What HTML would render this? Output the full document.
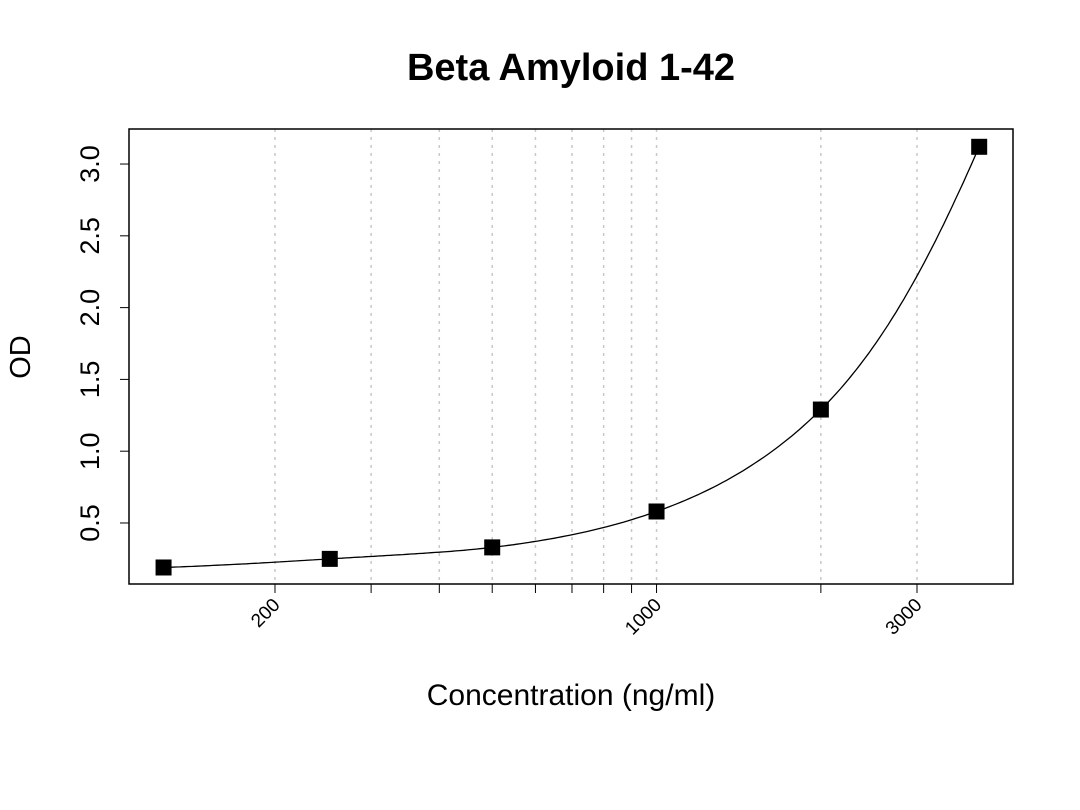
<!DOCTYPE html>
<html><head><meta charset="utf-8"><style>
body{margin:0;background:#fff;}
svg{display:block;font-family:"Liberation Sans",Arial,sans-serif;}
</style></head><body>
<svg id="chart" width="1080" height="810">
<text x="571" y="80" text-anchor="middle" font-size="38" font-weight="bold">Beta Amyloid 1-42</text>
<text x="571" y="705" text-anchor="middle" font-size="30">Concentration (ng/ml)</text>
<text transform="translate(30,357) rotate(-90)" text-anchor="middle" font-size="29">OD</text>
<g id="grid"></g><g id="axes"></g><g id="series"></g>
<rect x="129" y="129" width="884" height="455" fill="none" stroke="#000" stroke-width="1.5"/>
</svg>
<script>
const concentrations=[125,252,500,1000,2000,3900];
const odValues=[0.19,0.25,0.33,0.58,1.29,3.12];
const xTickValues=[200,1000,3000];
const xTickLabels=["200","1000","3000"];
const gridValues=[200,300,400,500,600,700,800,900,1000,2000,3000];
const yTickValues=[0.5,1.0,1.5,2.0,2.5,3.0];
const yTickLabels=["0.5","1.0","1.5","2.0","2.5","3.0"];
const NS="http://www.w3.org/2000/svg";
const L=129,R=1013,T=129,B=584;
const lx0=2.0336,lx1=3.653,y0=0.075,y1=3.244;
const xS=v=>L+(Math.log10(v)-lx0)/(lx1-lx0)*(R-L);
const yS=v=>B-(v-y0)/(y1-y0)*(B-T);
function mk(t,a,p){const e=document.createElementNS(NS,t);for(const k in a)e.setAttribute(k,a[k]);p.appendChild(e);return e;}
const grid=document.getElementById('grid'),axes=document.getElementById('axes'),ser=document.getElementById('series');
gridValues.forEach(v=>{const l=mk('line',{x1:xS(v),x2:xS(v),y1:T,y2:B,stroke:'#c8c8c8','stroke-width':1.5,'stroke-dasharray':'3,5'},grid);


const tk=mk('line',{x1:xS(v),x2:xS(v),y1:B,y2:B+9,stroke:'#000','stroke-width':1},axes);

});
xTickValues.forEach((v,i)=>{const x=xS(v);const t=mk('text',{transform:`translate(${x+6},${B+22}) rotate(-45)`,'text-anchor':'end','font-size':19},axes);t.textContent=xTickLabels[i];

});
yTickValues.forEach((v,i)=>{const y=yS(v);const tk=mk('line',{x1:L-9,x2:L,y1:y,y2:y,stroke:'#000'},axes);


const t=mk('text',{transform:`translate(${L-30},${y}) rotate(-90)`,'text-anchor':'middle','font-size':27},axes);t.textContent=yTickLabels[i];

});
// Fritsch-Carlson monotone cubic in linear concentration space
const xs=concentrations.slice(),ys=odValues,n=xs.length;
const d=[],m=[];for(let i=0;i<n-1;i++)d.push((ys[i+1]-ys[i])/(xs[i+1]-xs[i]));
m[0]=d[0];m[n-1]=d[n-2];
for(let i=1;i<n-1;i++){m[i]=(d[i-1]*d[i]<=0)?0:2/(1/d[i-1]+1/d[i]);}
let path='';
for(let i=0;i<n-1;i++){const h=xs[i+1]-xs[i];for(let s=0;s<=40;s++){
const xv=Math.pow(10,Math.log10(xs[i])+s/40*(Math.log10(xs[i+1])-Math.log10(xs[i])));
const t=(xv-xs[i])/h,t2=t*t,t3=t2*t;
const y=(2*t3-3*t2+1)*ys[i]+(t3-2*t2+t)*h*m[i]+(-2*t3+3*t2)*ys[i+1]+(t3-t2)*h*m[i+1];
path+=(path?'L':'M')+xS(xv).toFixed(1)+','+yS(y).toFixed(1);}}
const c=mk('path',{d:path,fill:'none',stroke:'#000','stroke-width':1.3},ser);


concentrations.forEach((v,i)=>{const p=mk('rect',{x:xS(v)-8,y:yS(odValues[i])-8,width:16,height:16,fill:'#000'},ser);

});
</script>
</body></html>
